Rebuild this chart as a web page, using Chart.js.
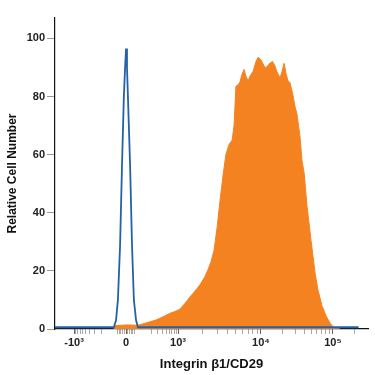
<!DOCTYPE html>
<html>
<head>
<meta charset="utf-8">
<script src="https://cdn.jsdelivr.net/npm/chart.js@4.4.1/dist/chart.umd.min.js"></script>
<style>
  html, body { margin: 0; padding: 0; background: #fff; }
  #wrap { width: 375px; height: 375px; }
</style>
</head>
<body>
<div id="wrap"><canvas id="histo"></canvas></div>
<script>
// display channel (0-1000 across the axis) and relative cell counts
var isoCh    = [0, 188, 195, 201, 208, 214, 220, 224, 227, 230, 233, 240, 246, 252, 259, 265, 970];
var isoCount = [0.6, 0.6, 3, 10, 29, 56, 80, 90, 96.5, 90, 80, 56, 29, 10, 3, 0.6, 0.6];

var cd29Ch    = [188, 193, 230, 262, 272, 288, 304, 320, 335, 351, 367, 383, 399, 415, 431, 447, 463, 479, 489, 498, 508, 518, 527, 537, 546, 556, 566, 572, 578, 585, 591, 597, 604, 610, 617, 623, 633, 642, 649, 655, 661, 668, 673, 681, 687, 695, 703, 709, 719, 725, 732, 738, 744, 751, 760, 767, 773, 783, 789, 796, 805, 818, 831, 840, 853, 866, 879, 888, 898, 911];
var cd29Count = [0, 1.2, 1.4, 1.3, 1.5, 2.0, 2.5, 3.0, 3.7, 4.5, 5.4, 6.0, 6.8, 8.8, 11, 13, 15.2, 18, 20.5, 23, 27, 35, 44, 53, 60, 63.5, 65, 70, 83.5, 84, 85, 87.5, 89.3, 87, 85.3, 87, 88.7, 92, 93.5, 93, 92, 90.5, 89.9, 90.7, 91.5, 92, 90.5, 88.5, 86.4, 88.5, 91.4, 88, 85.5, 84.7, 80.5, 76.5, 74, 66, 58, 53.7, 42.5, 30.5, 19.2, 13.5, 8, 4.5, 2, 0.8, 0.3, 0];

// axis ticks (fluorescence values) and labels
var majorVals   = [-1000, 0, 1000, 10000, 100000];
var majorLabels = ['-10³', '0', '10³', '10⁴', '10⁵'];
var minorVals = [-900, -800, -700, -600, -500, -400, -300, -200,
                 -50, -40, -30, -20, -10, 10, 20, 30, 40, 50,
                 200, 300, 400, 500, 600, 700, 800, 900,
                 2000, 3000, 4000, 5000, 6000, 7000, 8000, 9000,
                 20000, 30000, 40000, 50000, 60000, 70000, 80000, 90000, 200000];
var yTicks = [0, 20, 40, 60, 80, 100];

// biexponential-ish display transform: value -> channel
var zeroCh = 227, linHalf = 166, linW = 100;
function toCh(v) {
  var a = Math.abs(v), s = v < 0 ? -1 : 1, pos;
  if (a <= 1000) {
    return zeroCh + s * linHalf * Math.asinh(a / linW) / Math.asinh(1000 / linW);
  }
  var lg = Math.log10(a);
  if (lg <= 4) pos = 393 + (lg - 3) * (658 - 393);
  else pos = 658 + (lg - 4) * (888 - 658);
  return zeroCh + s * (pos - zeroCh);
}

function pts(xs, ys) {
  var out = [];
  for (var i = 0; i < xs.length; i++) out.push({x: xs[i], y: ys[i]});
  return out;
}

var fontFam = "'Liberation Sans', Arial, sans-serif";

var ctx = document.getElementById('histo');
var histo = new Chart(ctx, {
  type: 'line',
  data: {
    datasets: [
      {
        label: 'Isotype',
        data: pts(isoCh, isoCount),
        borderColor: '#2462a8',
        borderWidth: 1.8,
        pointRadius: 0,
        fill: false,
        tension: 0
      },
      {
        label: 'Integrin β1/CD29',
        data: pts(cd29Ch, cd29Count),
        borderColor: '#f58220',
        backgroundColor: '#f58220',
        borderWidth: 1,
        pointRadius: 0,
        fill: 'origin',
        tension: 0
      }
    ]
  },
  options: {
    responsive: true,
    maintainAspectRatio: false,
    animation: false,
    layout: { padding: { top: 18, right: 7, left: 0, bottom: 0 } },
    plugins: { legend: { display: false }, tooltip: { enabled: false } },
    scales: {
      x: {
        type: 'linear',
        min: 0,
        max: 1000,
        afterFit: function(scale) { scale.height = 46; },
        afterBuildTicks: function(scale) {
          var t = [];
          majorVals.forEach(function(v, i) { t.push({value: toCh(v), major: true, lbl: majorLabels[i]}); });
          minorVals.forEach(function(v) { t.push({value: toCh(v), major: false, lbl: ''}); });
          t.sort(function(a, b) { return a.value - b.value; });
          scale.ticks = t;
        },
        ticks: {
          autoSkip: false,
          maxRotation: 0,
          padding: 2,
          color: '#222',
          font: { family: fontFam, size: 11, weight: 'bold' },
          callback: function(value, index, ticks) { return ticks[index].lbl; }
        },
        grid: {
          drawOnChartArea: false,
          drawTicks: true,
          tickLength: 5,
          tickColor: function(c) { return c.tick && c.tick.major ? '#666' : '#aaa'; }
        },
        border: { display: true, color: '#111', width: 1.2 },
        title: {
          display: true,
          text: 'Integrin β1/CD29',
          color: '#111',
          padding: { top: 0, bottom: 3 },
          font: { family: fontFam, size: 13, weight: 'bold' }
        }
      },
      y: {
        min: 0,
        max: 107,
        afterFit: function(scale) { scale.width = 55; },
        afterBuildTicks: function(scale) {
          scale.ticks = yTicks.map(function(v) { return {value: v}; });
        },
        ticks: {
          padding: 2,
          color: '#222',
          font: { family: fontFam, size: 11, weight: 'bold' }
        },
        grid: {
          drawOnChartArea: false,
          drawTicks: true,
          tickLength: 8,
          tickColor: '#999'
        },
        border: { display: true, color: '#111', width: 1.2 },
        title: {
          display: true,
          text: 'Relative Cell Number',
          color: '#111',
          padding: { top: 5, bottom: 0 },
          font: { family: fontFam, size: 12, weight: 'bold' }
        }
      }
    }
  }
});
</script>
</body>
</html>
